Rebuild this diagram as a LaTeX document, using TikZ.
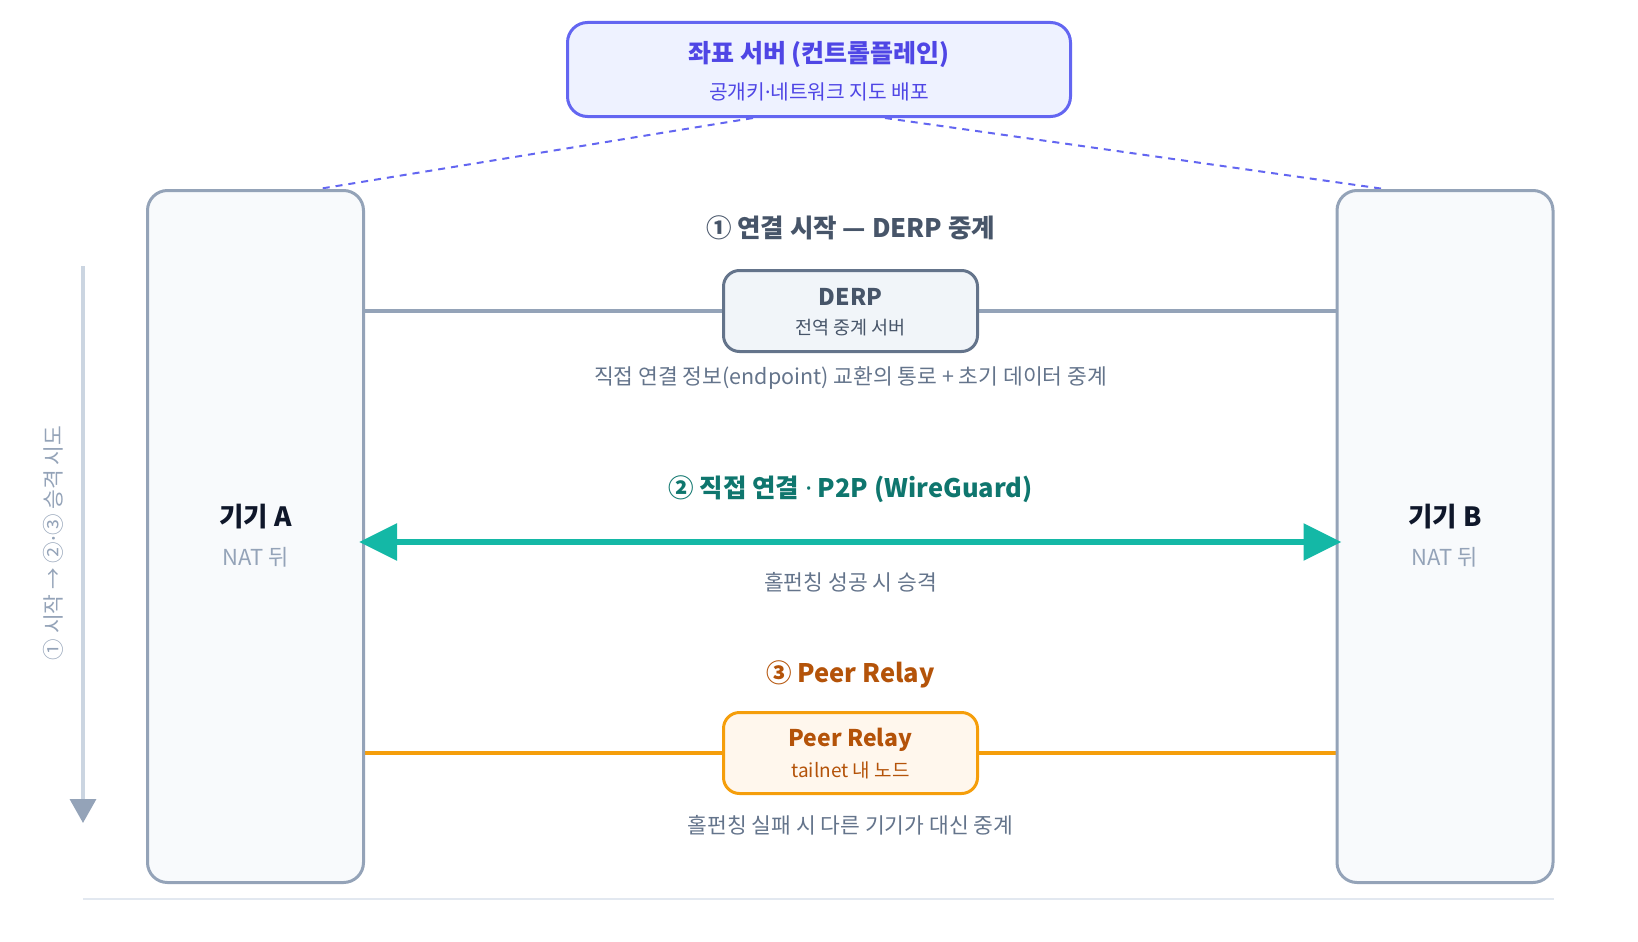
\documentclass[tikz,border=0pt]{standalone}
\usepackage{fontspec}
\setmainfont{Noto Sans CJK KR}
\newfontfamily\latinf{Noto Sans}
\usetikzlibrary{arrows.meta,calc,backgrounds}
\definecolor{indigoA}{HTML}{6366F1}
\definecolor{indigoT}{HTML}{4F46E5}
\definecolor{indigoF}{HTML}{EEF2FF}
\definecolor{slateF}{HTML}{F8FAFC}
\definecolor{slateB}{HTML}{94A3B8}
\definecolor{slateL}{HTML}{CBD5E1}
\definecolor{slateLL}{HTML}{E2E8F0}
\definecolor{slateM}{HTML}{64748B}
\definecolor{slateD}{HTML}{475569}
\definecolor{slateDD}{HTML}{0F172A}
\definecolor{derpF}{HTML}{F1F5F9}
\definecolor{tealL}{HTML}{14B8A6}
\definecolor{tealD}{HTML}{0F766E}
\definecolor{amberL}{HTML}{F59E0B}
\definecolor{amberD}{HTML}{B45309}
\definecolor{amberF}{HTML}{FFF7ED}
\newcommand{\mdot}{{\latinf ·}}
\tikzset{
  fs/.style={font=\fontsize{#1}{#1}\selectfont},
  txt/.style={inner sep=0pt, outer sep=0pt, anchor=center},
  ctrlbox/.style={draw=indigoA, fill=indigoF, line width=3pt, rounded corners=20pt, inner sep=0pt},
  devbox/.style={draw=slateB, fill=slateF, line width=3pt, rounded corners=20pt, inner sep=0pt},
  derpbox/.style={draw=slateM, fill=derpF, line width=3pt, rounded corners=16pt, inner sep=0pt},
  peerbox/.style={draw=amberL, fill=amberF, line width=3pt, rounded corners=16pt, inner sep=0pt},
  ctrlline/.style={draw=indigoA, line width=2pt, dash pattern=on 7pt off 6pt},
  derpline/.style={draw=slateB, line width=3.5pt},
  peerline/.style={draw=amberL, line width=3.5pt},
  p2pline/.style={draw=tealL, line width=6pt, shorten <=-6pt, shorten >=-6pt, {Triangle[length=38pt,width=36pt]}-{Triangle[length=38pt,width=36pt]}},
  timeline/.style={draw=slateL, line width=3.5pt, -{Triangle[length=24pt,width=26pt,color=slateB]}},
  baseline/.style={draw=slateLL, line width=1.5pt},
}
\begin{document}
\begin{tikzpicture}[x=1pt,y=-1pt]
\useasboundingbox (0,0) rectangle (1638,942);

% boxes
\node[ctrlbox, minimum width=503pt, minimum height=94pt] (ctrl) at (819,69.5) {};
\node[devbox, minimum width=216pt, minimum height=692pt] (devA) at (255.5,536.5) {};
\node[devbox, minimum width=216pt, minimum height=692pt] (devB) at (1445,536.5) {};
\node[derpbox, minimum width=254pt, minimum height=81pt] (derp) at (850.5,311) {};
\node[peerbox, minimum width=254pt, minimum height=81pt] (peer) at (850.5,753) {};

% control box texts
\node[txt, fs=25, text=indigoT] (ctrlT) at (819,55) {\bfseries 좌표 서버 (컨트롤플레인)};
\node[txt, fs=20.3, text=indigoT] (ctrlS) at (819,92) {공개키\mdot 네트워크 지도 배포};

% device texts
\node[txt, fs=26.5, text=slateDD] (devAT) at (255.5,517) {\bfseries 기기 A};
\node[txt, fs=22, text=slateB] (devAS) at (255.5,557) {NAT 뒤};
\node[txt, fs=26.5, text=slateDD] (devBT) at (1445,517) {\bfseries 기기 B};
\node[txt, fs=22, text=slateB] (devBS) at (1445,557) {NAT 뒤};

% step 1
\node[txt, fs=25.5, text=slateD] (s1T) at (850.5,228) {\bfseries ① 연결 시작 — DERP 중계};
\node[txt, fs=23, text=slateD] (derpT) at (850.5,297) {\bfseries DERP};
\node[txt, fs=18.5, text=slateD] (derpS) at (850.5,328) {전역 중계 서버};
\node[txt, fs=21.5, text=slateM] (s1C) at (850.5,378) {직접 연결 정보(endpoint) 교환의 통로 + 초기 데이터 중계};

% step 2
\node[txt, fs=25.5, text=tealD] (s2T) at (850.5,489) {\bfseries ② 직접 연결 \mdot{} P2P (WireGuard)};
\coordinate (rowP) at (850.5,542);
\node[txt, fs=21.5, text=slateM] (s2C) at (850.5,582) {홀펀칭 성공 시 승격};

% step 3
\node[txt, fs=25.5, text=amberD] (s3T) at (850.5,674) {\bfseries ③ Peer Relay};
\node[txt, fs=23, text=amberD] (peerT) at (850.5,740) {\bfseries Peer Relay};
\node[txt, fs=19, text=amberD] (peerS) at (850.5,770) {tailnet 내 노드};
\node[txt, fs=21.5, text=slateM] (s3C) at (850.5,825) {홀펀칭 실패 시 다른 기기가 대신 중계};

% timeline
\coordinate (tlTop) at (83,266);
\coordinate (tlBot) at (83,823);
\node[txt, fs=21.5, text=slateB, rotate=90] (tlT) at (53,543) {① 시작 → ②\mdot③ 승격 시도};

% baseline
\coordinate (blL) at (83,899);
\coordinate (blR) at (1554,899);

\begin{scope}[on background layer]
  \draw[ctrlline] ($(ctrl.south)+(-66,0)$) -- ($(devA.north)+(63,0)$);
  \draw[ctrlline] ($(ctrl.south)+(66,0)$) -- ($(devB.north)+(-61,0)$);
  \draw[derpline] (devA.east |- derp.west) -- (derp.west);
  \draw[derpline] (derp.east) -- (devB.west |- derp.east);
  \draw[peerline] (devA.east |- peer.west) -- (peer.west);
  \draw[peerline] (peer.east) -- (devB.west |- peer.east);
\end{scope}
\draw[p2pline] (devA.east |- rowP) -- (devB.west |- rowP);
\draw[timeline] (tlTop) -- (tlBot);
\draw[baseline] (blL) -- (blR);
\end{tikzpicture}
\end{document}
